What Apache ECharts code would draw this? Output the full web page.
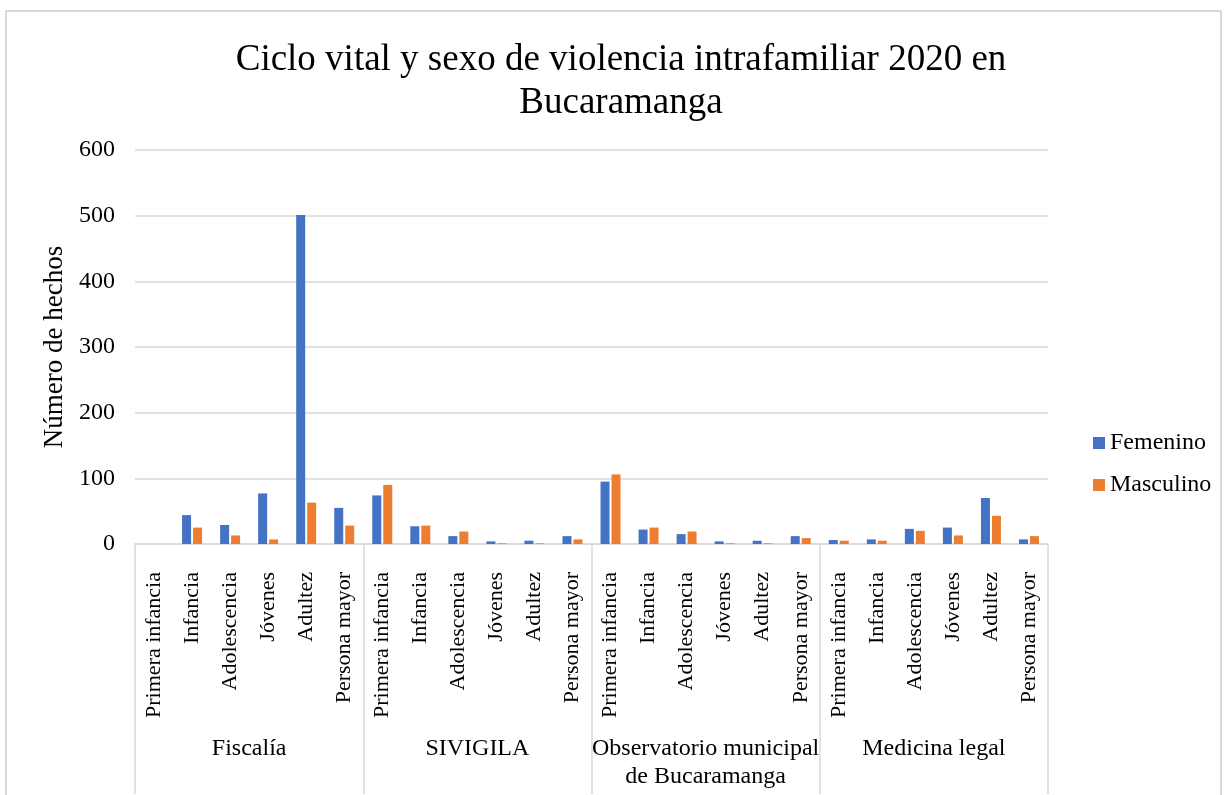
<!DOCTYPE html>
<html>
<head>
<meta charset="utf-8">
<script src="https://cdn.jsdelivr.net/npm/echarts@6/dist/echarts.min.js"></script>
<style>
html,body{margin:0;padding:0;background:#fff;}
#frame{position:absolute;left:5px;top:10px;width:1217px;height:800px;border:2px solid #d9d9d9;box-sizing:border-box;}
#chart{position:absolute;left:0;top:0;width:1231px;height:795px;}
</style>
</head>
<body>
<div id="frame"></div>
<div id="chart"></div>
<script>
const groups = ["Fiscalía", "SIVIGILA", "Observatorio municipal\nde Bucaramanga", "Medicina legal"];
const ageGroups = ["Primera infancia", "Infancia", "Adolescencia", "Jóvenes", "Adultez", "Persona mayor"];
const femenino = [0, 44, 29, 77, 501, 55, 74, 27, 12, 4, 5, 12, 95, 22, 15, 4, 5, 12, 6, 7, 23, 25, 70, 7];
const masculino = [0, 25, 13, 7, 63, 28, 90, 28, 19, 1, 1, 7, 106, 25, 19, 1, 1, 9, 5, 5, 20, 13, 43, 12];
const yTicks = [0, 100, 200, 300, 400, 500, 600];

const cats = [];
groups.forEach((g, gi) => ageGroups.forEach(a => cats.push(gi + "|" + a)));

const font = "'Liberation Serif', 'Times New Roman', serif";
const chart = echarts.init(document.getElementById('chart'));
chart.setOption({
  animation: false,
  textStyle: {fontFamily: font},
  title: {
    text: "Ciclo vital y sexo de violencia intrafamiliar 2020 en\nBucaramanga",
    left: 616,
    textAlign: 'center',
    top: 34,
    textStyle: {fontFamily: font, fontSize: 37, fontWeight: 'normal', color: '#000', lineHeight: 43}
  },
  legend: {
    orient: 'vertical',
    left: 1088,
    top: 426,
    itemWidth: 12,
    itemHeight: 12,
    itemGap: 18,
    icon: 'rect',
    textStyle: {fontFamily: font, fontSize: 24, color: '#000'},
    data: ['Femenino', 'Masculino']
  },
  grid: {left: 135, right: 183, top: 150, bottom: 251},
  xAxis: [
    {
      type: 'category',
      data: cats,
      axisLine: {show: true, lineStyle: {color: '#d9d9d9', width: 1.5}},
      axisTick: {show: false},
      axisLabel: {
        interval: 0,
        rotate: 90,
        margin: 28,
        fontFamily: font,
        fontSize: 22,
        color: '#000',
        formatter: v => v.split('|')[1]
      }
    },
    {
      type: 'category',
      data: groups,
      position: 'bottom',
      axisLine: {show: false},
      axisTick: {show: true, length: 250, lineStyle: {color: '#d9d9d9', width: 1.5}},
      axisLabel: {
        interval: 0,
        margin: 191,
        fontFamily: font,
        fontSize: 24,
        lineHeight: 28,
        color: '#000'
      }
    }
  ],
  yAxis: {
    type: 'value',
    min: 0,
    max: 600,
    interval: 100,
    name: 'Número de hechos',
    nameLocation: 'middle',
    nameGap: 66,
    nameTextStyle: {fontFamily: font, fontSize: 27, color: '#000'},
    axisLine: {show: false},
    axisTick: {show: false},
    splitLine: {lineStyle: {color: '#d9d9d9', width: 1.5}},
    axisLabel: {
      margin: 20,
      fontFamily: font,
      fontSize: 24,
      color: '#000',
      formatter: v => yTicks.includes(v) ? String(v) : ''
    }
  },
  series: [
    {name: 'Femenino', type: 'bar', data: femenino, barWidth: 9, barGap: '22%', itemStyle: {color: '#4472C4'}},
    {name: 'Masculino', type: 'bar', data: masculino, barWidth: 9, barGap: '22%', itemStyle: {color: '#ED7D31'}}
  ]
});
</script>
</body>
</html>
